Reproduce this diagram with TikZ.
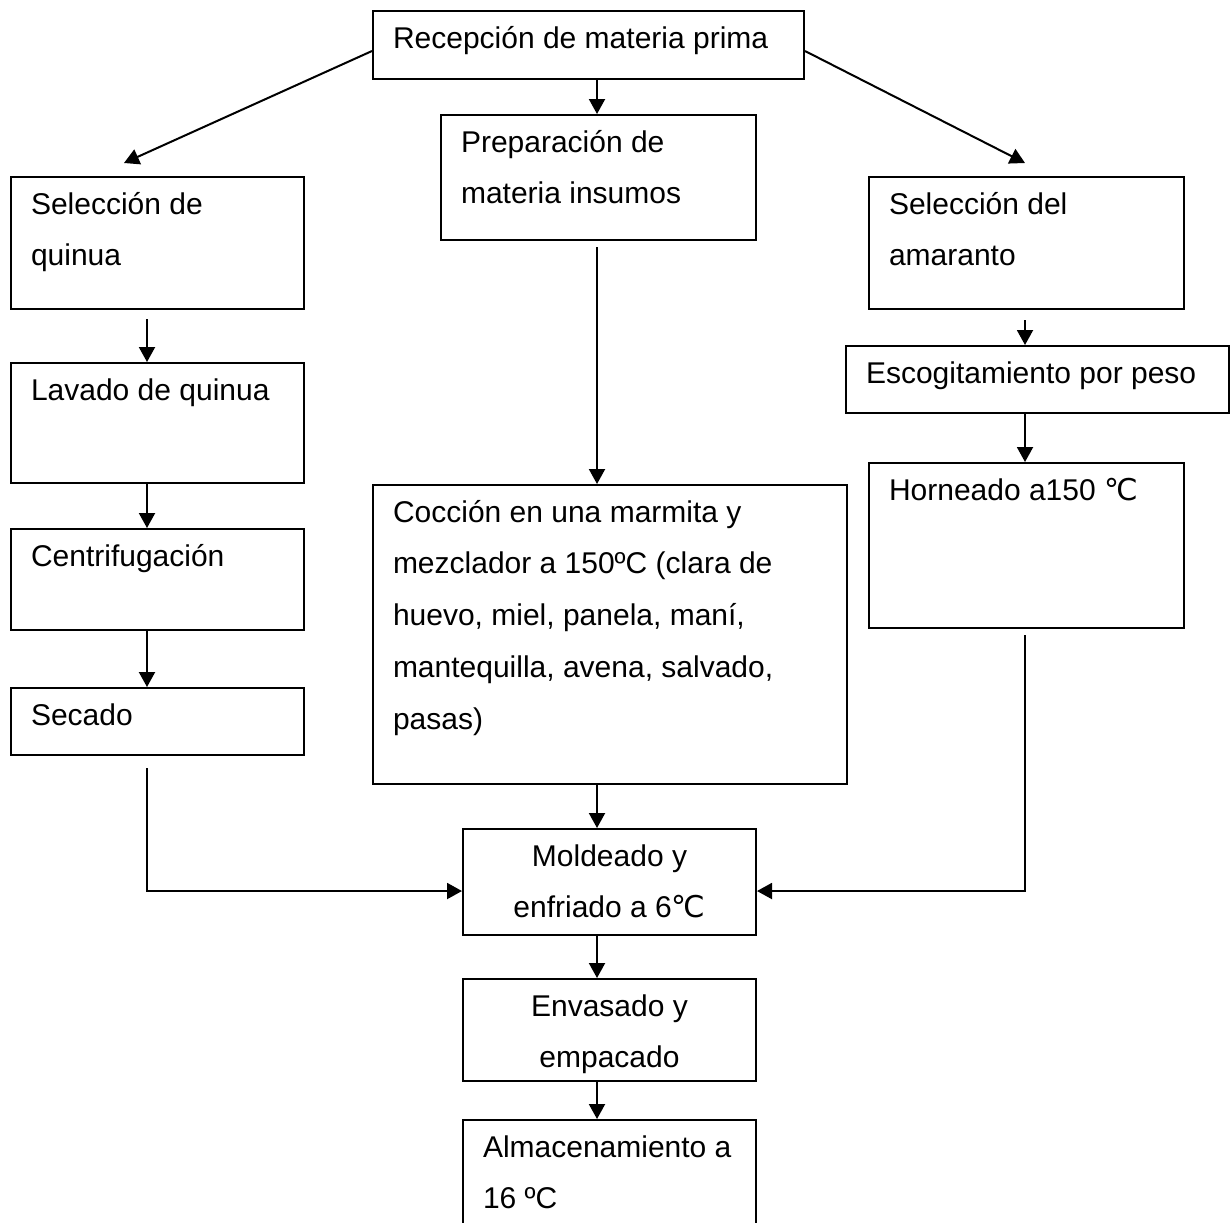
\documentclass[tikz,border=0pt]{standalone}
\usepackage{fontspec}
\setmainfont{Liberation Sans}
\newfontfamily\simbolo{DejaVu Sans}
\usetikzlibrary{arrows.meta}
\newlength{\px}
\setlength{\px}{.4pt}
\newcommand{\texto}[4][\raggedright\leftskip=20\px]{\parbox[t][#3\px][t]{#2\px}{#1\rule{0pt}{37\px}#4}}

\begin{document}
\begin{tikzpicture}[x=.4pt, y=-.4pt,
		paso/.style={draw, line width=.8pt, anchor=north west, inner sep=0pt, font=\fontsize{12pt}{20.7pt}\selectfont},
		flecha/.style={line width=.8pt, -{Triangle[length=6pt, width=6.4pt]}}]
	\useasboundingbox (0,0) rectangle (1231,1222);
	\clip (0,0) rectangle (1231,1222);
	\coordinate (ejeizq) at (147,0);
	\coordinate (ejecen) at (597,0);
	\coordinate (ejeder) at (1025,0);

	\node[paso] (recep) at (372,10) {\texto{431}{68}{Recepción de materia prima}};
	\node[paso] (prep) at (440,114) {\texto{315}{125}{Preparación de\\materia insumos}};
	\node[paso] (selq) at (10,176) {\texto{293}{132}{Selección de\\quinua}};
	\node[paso] (selam) at (868,176) {\texto{315}{132}{Selección del\\amaranto}};
	\node[paso] (lavado) at (10,362) {\texto{293}{120}{Lavado de quinua}};
	\node[paso] (escog) at (845,345) {\texto{383}{67}{Escogitamiento por peso}};
	\node[paso] (centrif) at (10,528) {\texto{293}{101}{Centrifugación}};
	\node[paso] (horn) at (868,462) {\texto{315}{165}{Horneado a150 {\simbolo ℃}}};
	\node[paso] (cocc) at (372,484) {\texto{474}{299}{Cocción en una marmita y\\mezclador a 150ºC (clara de\\huevo, miel, panela, maní,\\mantequilla, avena, salvado,\\pasas)}};
	\node[paso] (secado) at (10,687) {\texto{293}{67}{Secado}};
	\node[paso] (molde) at (462,828) {\texto[\centering]{293}{106}{Moldeado y\\enfriado a 6{\simbolo ℃}}};
	\node[paso] (envas) at (462,978) {\texto[\centering]{293}{102}{Envasado y\\empacado}};
	\node[paso] (almac) at (462,1119) {\texto{293}{140}{Almacenamiento a\\16 ºC}};

	\coordinate (izq) at (124,163);
	\coordinate (der) at (1025,163);
	\coordinate (juntaizq) at (147,891);
	\coordinate (juntader) at (1025,891);

	\draw[flecha] ([yshift=-2.4pt]recep.west) -- (izq);
	\draw[flecha] ([yshift=-2.4pt]recep.east) -- (der);
	\draw[flecha] (recep.south -| ejecen) -- (prep.north -| ejecen);
	\draw[flecha] (prep.south -| ejecen) ++(0,6) -- (cocc.north -| ejecen);
	\draw[flecha] (cocc.south -| ejecen) -- (molde.north -| ejecen);
	\draw[flecha] (molde.south -| ejecen) -- (envas.north -| ejecen);
	\draw[flecha] (envas.south -| ejecen) -- (almac.north -| ejecen);

	\draw[flecha] (selq.south -| ejeizq) ++(0,9) -- (lavado.north -| ejeizq);
	\draw[flecha] (lavado.south -| ejeizq) -- (centrif.north -| ejeizq);
	\draw[flecha] (centrif.south -| ejeizq) -- (secado.north -| ejeizq);
	\draw[flecha] (secado.south -| ejeizq) ++(0,12) -- (juntaizq) -- (juntaizq -| molde.west);

	\draw[flecha] (selam.south -| ejeder) ++(0,10) -- (escog.north -| ejeder);
	\draw[flecha] (escog.south -| ejeder) -- (horn.north -| ejeder);
	\draw[flecha] (horn.south -| ejeder) ++(0,6) -- (juntader) -- (juntader -| molde.east);
\end{tikzpicture}
\end{document}
